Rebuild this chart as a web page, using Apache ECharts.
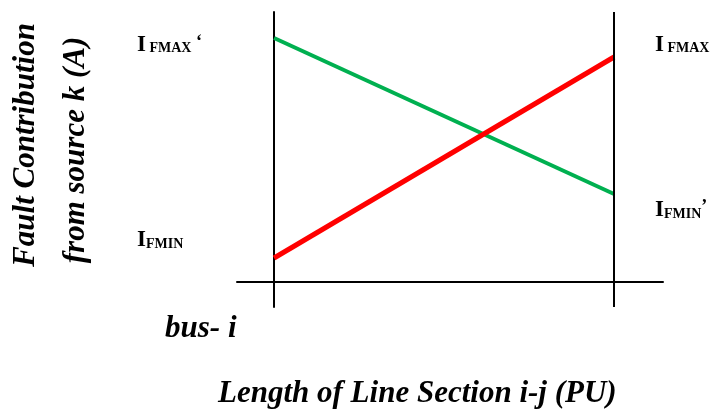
<!DOCTYPE html>
<html>
<head>
<meta charset="utf-8">
<script src="https://cdn.jsdelivr.net/npm/echarts@6/dist/echarts.min.js"></script>
<style>
  html, body { margin: 0; padding: 0; background: #fff; }
  #chart { width: 711px; height: 414px; }
</style>
</head>
<body>
<div id="chart"></div>
<script>
// position along line section (PU), bus i = 0, bus j = 1
var positions = [0, 1];
// fault contribution (arbitrary units)
var greenValues = [9.76, 3.52];
var redValues = [0.96, 9.0];

var serif = '"Liberation Serif", "Times New Roman", serif';

var myChart = echarts.init(document.getElementById('chart'));

function lbl(x, y, sub, tail, subOffset) {
    return {
        type: 'text',
        left: x,
        top: y,
        style: {
            text: '{i|I}{s|' + sub + '}{t|' + (tail || '') + '}',
            rich: {
                i: { fontFamily: serif, fontWeight: 'bold', fontSize: 23, fill: '#000' },
                s: { fontFamily: serif, fontWeight: 'bold', fontSize: 14, fill: '#000', padding: [subOffset || 6, 0, 0, 0] },
                t: { fontFamily: serif, fontWeight: 'bold', fontSize: 18, fill: '#000', padding: [0, 0, 6, 0] }
            }
        }
    };
}

function title(text, opts) {
    var s = { text: text, fontFamily: serif, fontWeight: 'bold', fontStyle: 'italic', fontSize: 31, fill: '#000' };
    for (var k in opts.style || {}) s[k] = opts.style[k];
    var g = { type: 'text', style: s };
    for (var k2 in opts) if (k2 !== 'style') g[k2] = opts[k2];
    return g;
}

option = {
    animation: false,
    grid: { left: 237, right: 48, top: 12, bottom: 107 },
    xAxis: {
        type: 'value',
        min: -0.109,
        max: 1.144,
        axisLine: { onZero: true, lineStyle: { color: '#000', width: 2 } },
        axisTick: { show: false },
        axisLabel: { show: false },
        splitLine: { show: false }
    },
    yAxis: {
        type: 'value',
        min: -1,
        max: 10.8,
        axisLine: { show: true, onZero: true, lineStyle: { color: '#000', width: 2 } },
        axisTick: { show: false },
        axisLabel: { show: false },
        splitLine: { show: false }
    },
    series: [
        {
            name: 'green',
            type: 'line',
            data: positions.map(function (x, i) { return [x, greenValues[i]]; }),
            symbol: 'none',
            lineStyle: { color: '#00b050', width: 4 },
            markLine: {
                silent: true,
                symbol: 'none',
                label: { show: false },
                lineStyle: { color: '#000', width: 2, type: 'solid' },
                data: [{ xAxis: 1 }]
            }
        },
        {
            name: 'red',
            type: 'line',
            data: positions.map(function (x, i) { return [x, redValues[i]]; }),
            symbol: 'none',
            lineStyle: { color: '#ff0000', width: 5 }
        }
    ],
    graphic: [
        lbl(137, 33, ' FMAX', ' \u2018', 6),
        lbl(655, 33, ' FMAX', '', 6),
        lbl(137, 228, 'FMIN', '', 9),
        lbl(655, 198, 'FMIN', '\u2019', 9),
        title('bus- i', { left: 165, top: 313 }),
        title('Length of Line Section i-j (PU)', { left: 218, top: 378 }),
        title('Fault Contribution', { x: 26, y: 145, rotation: Math.PI / 2, style: { align: 'center', verticalAlign: 'middle' } }),
        title('from source k (A)', { x: 76, y: 150, rotation: Math.PI / 2, style: { align: 'center', verticalAlign: 'middle' } })
    ]
};
myChart.setOption(option);
</script>
</body>
</html>
